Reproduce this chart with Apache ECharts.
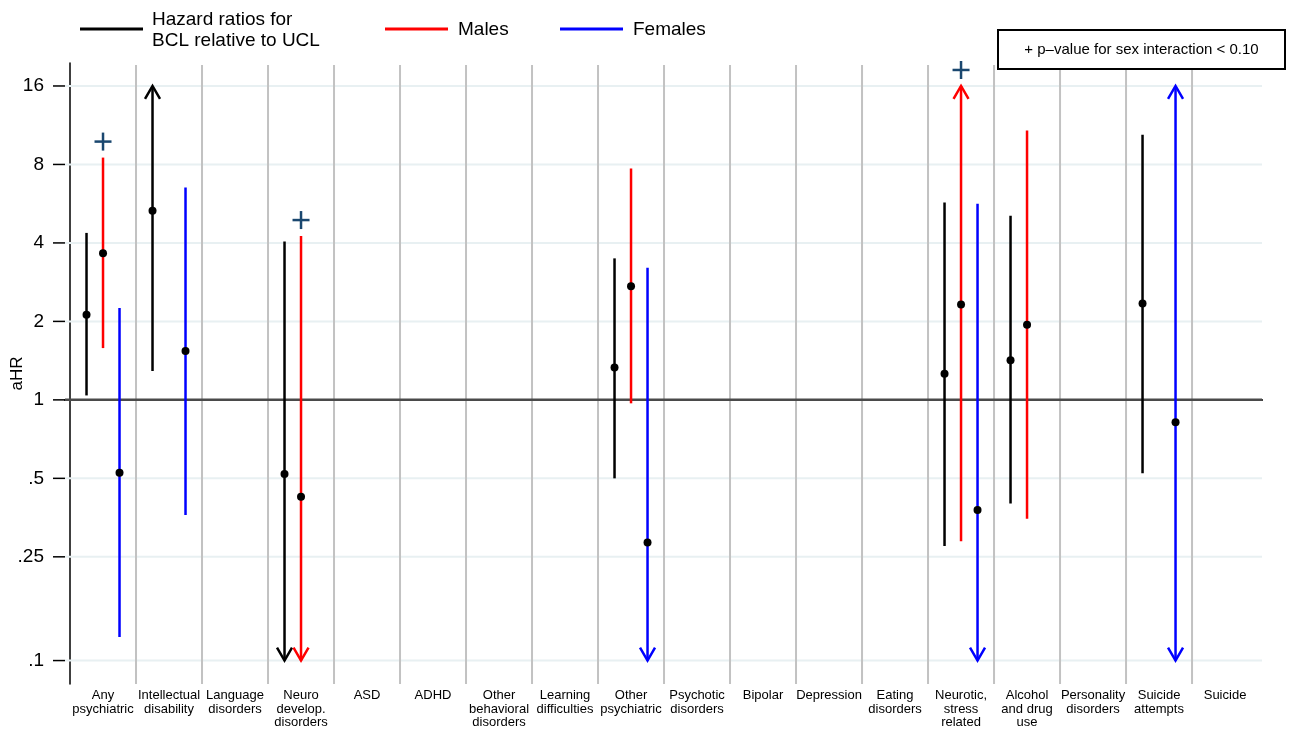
<!DOCTYPE html>
<html>
<head>
<meta charset="utf-8">
<script src="https://cdn.jsdelivr.net/npm/echarts@6/dist/echarts.min.js"></script>
<style>
html, body { margin: 0; padding: 0; background: #fff; }
#main { width: 1289px; height: 732px; }
</style>
</head>
<body>
<div id="main"></div>
<script>
var categories = ['Any\npsychiatric', 'Intellectual\ndisability', 'Language\ndisorders', 'Neuro\ndevelop.\ndisorders',
    'ASD', 'ADHD', 'Other\nbehavioral\ndisorders', 'Learning\ndifficulties', 'Other\npsychiatric', 'Psychotic\ndisorders',
    'Bipolar', 'Depression', 'Eating\ndisorders', 'Neurotic,\nstress\nrelated', 'Alcohol\nand drug\nuse',
    'Personality\ndisorders', 'Suicide\nattempts', 'Suicide'];
var yTicks = [0.1, 0.25, 0.5, 1, 2, 4, 8, 16];
var yTickLabels = ['.1', '.25', '.5', '1', '2', '4', '8', '16'];

// null HR = not estimated; null bound = CI runs off the axis (drawn as arrow)
var allHR = [2.12, 5.31, null, 0.52, null, null, null, null, 1.33, null, null, null, null, 1.26, 1.42, null, 2.34, null];
var allLo = [1.04, 1.29, null, null, null, null, null, null, 0.50, null, null, null, null, 0.275, 0.40, null, 0.523, null];
var allHi = [4.37, null, null, 4.05, null, null, null, null, 3.49, null, null, null, null, 5.72, 5.09, null, 10.4, null];

var maleHR = [3.65, null, null, 0.425, null, null, null, null, 2.73, null, null, null, null, 2.32, 1.94, null, null, null];
var maleLo = [1.58, null, null, null, null, null, null, null, 0.97, null, null, null, null, 0.287, 0.35, null, null, null];
var maleHi = [8.5, null, null, 4.25, null, null, null, null, 7.72, null, null, null, null, null, 10.8, null, null, null];

var femHR = [0.525, 1.54, null, null, null, null, null, null, 0.284, null, null, null, null, 0.378, null, null, 0.82, null];
var femLo = [0.123, 0.362, null, null, null, null, null, null, null, null, null, null, null, null, null, null, null, null];
var femHi = [2.25, 6.52, null, null, null, null, null, null, 3.21, null, null, null, null, 5.66, null, null, null, null];

// categories with p-value for sex interaction < 0.10
var sexInteraction = [0, 3, 13];

var yMin = 0.0813, yMax = 19.6;   // axis range
var clipLo = 0.1, clipHi = 16;    // arrows end here
var fontFam = 'Liberation Sans, Arial, sans-serif';

var colors = ['#000000', '#ff0000', '#0000ff'];
var offsets = [-0.25, 0, 0.25];
var groups = [[allHR, allLo, allHi], [maleHR, maleLo, maleHi], [femHR, femLo, femHi]];

var ciData = [];
groups.forEach(function (g, gi) {
    for (var i = 0; i < categories.length; i++) {
        if (g[0][i] == null) continue;
        var lo = g[1][i], hi = g[2][i];
        ciData.push([i + 0.5 + offsets[gi], Math.log2(g[0][i]),
            Math.log2(lo == null ? clipLo : lo), Math.log2(hi == null ? clipHi : hi),
            lo == null ? 1 : 0, hi == null ? 1 : 0, gi]);
    }
});

var plusData = sexInteraction.map(function (i) {
    return [i + 0.5, Math.log2(maleHi[i] == null ? clipHi : maleHi[i])];
});

var tickData = yTicks.map(function (v) { return [Math.log2(v)]; });
var lightGrid = [];
yTicks.forEach(function (v) { if (v != 1) lightGrid.push([Math.log2(v)]); });
var separators = [];
for (var k = 1; k < categories.length; k++) separators.push([k]);

function hLine(color, width) {
    return function (params, api) {
        var cs = params.coordSys;
        var p = api.coord([0, api.value(0)]);
        return {
            type: 'line',
            shape: {x1: cs.x, y1: p[1], x2: cs.x + cs.width, y2: p[1]},
            style: {stroke: color, lineWidth: width}
        };
    };
}

var myChart = echarts.init(document.getElementById('main'));

var option = {
    backgroundColor: '#fff',
    animation: false,
    grid: {left: 65, right: 27, top: 63, bottom: 48, containLabel: false, outerBoundsMode: 'none'},
    xAxis: {
        type: 'value',
        min: -0.076,
        max: 18.06,
        axisLine: {show: true, lineStyle: {color: '#000', width: 2}},
        axisTick: {show: false},
        splitLine: {show: false},
        axisLabel: {
            customValues: categories.map(function (c, i) { return i + 0.5; }),
            formatter: function (v) { return categories[Math.floor(v)]; },
            color: '#000',
            fontFamily: fontFam,
            fontSize: 13,
            lineHeight: 13.5,
            margin: 5,
            verticalAlign: 'top'
        }
    },
    yAxis: {
        type: 'value',
        min: Math.log2(yMin),
        max: Math.log2(yMax),
        name: 'aHR',
        nameLocation: 'middle',
        nameGap: 39,
        nameMoveOverlap: false,
        nameTextStyle: {color: '#000', fontFamily: fontFam, fontSize: 17},
        axisLine: {show: true, lineStyle: {color: '#000', width: 1.5}},
        axisTick: {show: false},
        axisLabel: {
            customValues: yTicks.map(Math.log2),
            formatter: function (v) {
                for (var i = 0; i < yTicks.length; i++) {
                    if (Math.abs(Math.log2(yTicks[i]) - v) < 1e-6) return yTickLabels[i];
                }
                return '';
            },
            color: '#000',
            fontFamily: fontFam,
            fontSize: 19,
            margin: 21
        },
        splitLine: {show: false}
    },
    graphic: [
        {type: 'line', shape: {x1: 80, y1: 29, x2: 143, y2: 29}, style: {stroke: '#000', lineWidth: 3}},
        {type: 'text', x: 152, y: 30, style: {text: 'Hazard ratios for\nBCL relative to UCL', fill: '#000',
            font: '19px ' + fontFam, lineHeight: 21, verticalAlign: 'middle'}},
        {type: 'line', shape: {x1: 385, y1: 29, x2: 448, y2: 29}, style: {stroke: '#ff0000', lineWidth: 3}},
        {type: 'text', x: 458, y: 30, style: {text: 'Males', fill: '#000', font: '19px ' + fontFam, verticalAlign: 'middle'}},
        {type: 'line', shape: {x1: 560, y1: 29, x2: 623, y2: 29}, style: {stroke: '#0000ff', lineWidth: 3}},
        {type: 'text', x: 633, y: 30, style: {text: 'Females', fill: '#000', font: '19px ' + fontFam, verticalAlign: 'middle'}},
        {type: 'rect', shape: {x: 998, y: 30, width: 287, height: 39}, style: {fill: '#fff', stroke: '#000', lineWidth: 2}, z: 100},
        {type: 'text', x: 1141.5, y: 50, z: 101, style: {text: '+ p\u2013value for sex interaction < 0.10', fill: '#000',
            font: '15px ' + fontFam, align: 'center', verticalAlign: 'middle'}}
    ],
    series: [
        {
            // y-axis tick marks
            type: 'custom',
            silent: true,
            clip: false,
            z: 1,
            data: tickData,
            encode: {y: 0},
            renderItem: function (params, api) {
                var cs = params.coordSys;
                var p = api.coord([0, api.value(0)]);
                return {
                    type: 'line',
                    shape: {x1: cs.x - 12, y1: p[1], x2: cs.x, y2: p[1]},
                    style: {stroke: '#000', lineWidth: 1.5}
                };
            }
        },
        {
            type: 'custom',
            silent: true,
            z: 1,
            data: lightGrid,
            encode: {y: 0},
            renderItem: hLine('#e8f0f2', 2)
        },
        {
            type: 'custom',
            silent: true,
            z: 2,
            data: separators,
            encode: {x: 0},
            renderItem: function (params, api) {
                var cs = params.coordSys;
                var p = api.coord([api.value(0), 0]);
                return {
                    type: 'line',
                    shape: {x1: p[0], y1: cs.y + 2, x2: p[0], y2: cs.y + cs.height},
                    style: {stroke: '#c2c2c2', lineWidth: 2}
                };
            }
        },
        {
            type: 'custom',
            silent: true,
            z: 3,
            data: [[0]],
            encode: {y: 0},
            renderItem: hLine('#4a4a4a', 2.5)
        },
        {
            type: 'custom',
            z: 5,
            data: ciData,
            encode: {x: 0, y: [1, 2, 3]},
            renderItem: function (params, api) {
                var x = api.value(0);
                var pEst = api.coord([x, api.value(1)]);
                var pLo = api.coord([x, api.value(2)]);
                var pHi = api.coord([x, api.value(3)]);
                var color = colors[api.value(6)];
                var kids = [{
                    type: 'line',
                    shape: {x1: pLo[0], y1: pLo[1], x2: pHi[0], y2: pHi[1]},
                    style: {stroke: color, lineWidth: 2.5}
                }];
                if (api.value(5)) {
                    kids.push({type: 'polyline', shape: {points: [[pHi[0] - 7.5, pHi[1] + 13], [pHi[0], pHi[1]], [pHi[0] + 7.5, pHi[1] + 13]]},
                        style: {stroke: color, lineWidth: 2.5, fill: null}});
                }
                if (api.value(4)) {
                    kids.push({type: 'polyline', shape: {points: [[pLo[0] - 7.5, pLo[1] - 13], [pLo[0], pLo[1]], [pLo[0] + 7.5, pLo[1] - 13]]},
                        style: {stroke: color, lineWidth: 2.5, fill: null}});
                }
                kids.push({type: 'circle', shape: {cx: pEst[0], cy: pEst[1], r: 4}, style: {fill: '#000'}});
                return {type: 'group', children: kids};
            }
        },
        {
            type: 'custom',
            z: 6,
            data: plusData,
            encode: {x: 0, y: 1},
            renderItem: function (params, api) {
                var p = api.coord([api.value(0), api.value(1)]);
                var cy = p[1] - 16;
                var st = {stroke: '#1a476f', lineWidth: 2.5};
                return {
                    type: 'group',
                    children: [
                        {type: 'line', shape: {x1: p[0] - 8.5, y1: cy, x2: p[0] + 8.5, y2: cy}, style: st},
                        {type: 'line', shape: {x1: p[0], y1: cy - 9, x2: p[0], y2: cy + 9}, style: st}
                    ]
                };
            }
        }
    ]
};

myChart.setOption(option);
</script>
</body>
</html>
